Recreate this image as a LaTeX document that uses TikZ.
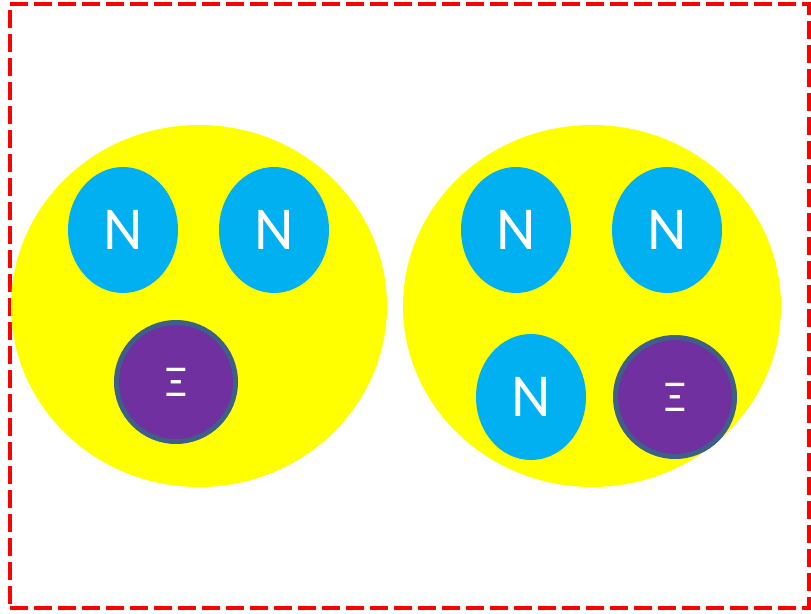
\documentclass[tikz,border=0pt]{standalone}
\usepackage{fontspec}
\usetikzlibrary{shapes.geometric}
\setmainfont{Carlito}
\definecolor{nblue}{HTML}{00B0F0}
\definecolor{nucyellow}{HTML}{FFFF00}
\definecolor{framered}{HTML}{FF0000}
\definecolor{xipurple}{HTML}{7030A0}
\definecolor{xiedge}{HTML}{3E5F8A}
\begin{document}
\begin{tikzpicture}[x=1pt,y=-1pt,
  nucleon/.style={fill=nblue,draw=none,ellipse,minimum width=110pt,minimum height=126pt,inner sep=0pt,text=white,font=\fontsize{61}{61}\selectfont},
  xi/.style={circle,fill=xipurple,draw=xiedge,line width=5pt,minimum size=119pt,inner sep=0pt,text=white,font=\fontsize{44}{44}\selectfont}]
\useasboundingbox (0,0) rectangle (811,613);
\node[draw=framered,line width=4.5pt,dash pattern=on 18pt off 6pt,minimum width=799pt,minimum height=604pt,inner sep=0pt] (frame) at (409.5,306) {};
\fill[nucyellow] (199,306) ellipse [x radius=188, y radius=181];
\fill[nucyellow] (592,306) ellipse [x radius=189, y radius=181];
\node[nucleon] (n1) at (123,230) {N};
\node[nucleon] (n2) at (274,230) {N};
\node[xi] (x1) at (176,382) {Ξ};
\node[nucleon] (n3) at (516,230) {N};
\node[nucleon] (n4) at (667,230) {N};
\node[nucleon] (n5) at (531,397) {N};
\node[xi] (x2) at (675,397) {Ξ};
\end{tikzpicture}
\end{document}
